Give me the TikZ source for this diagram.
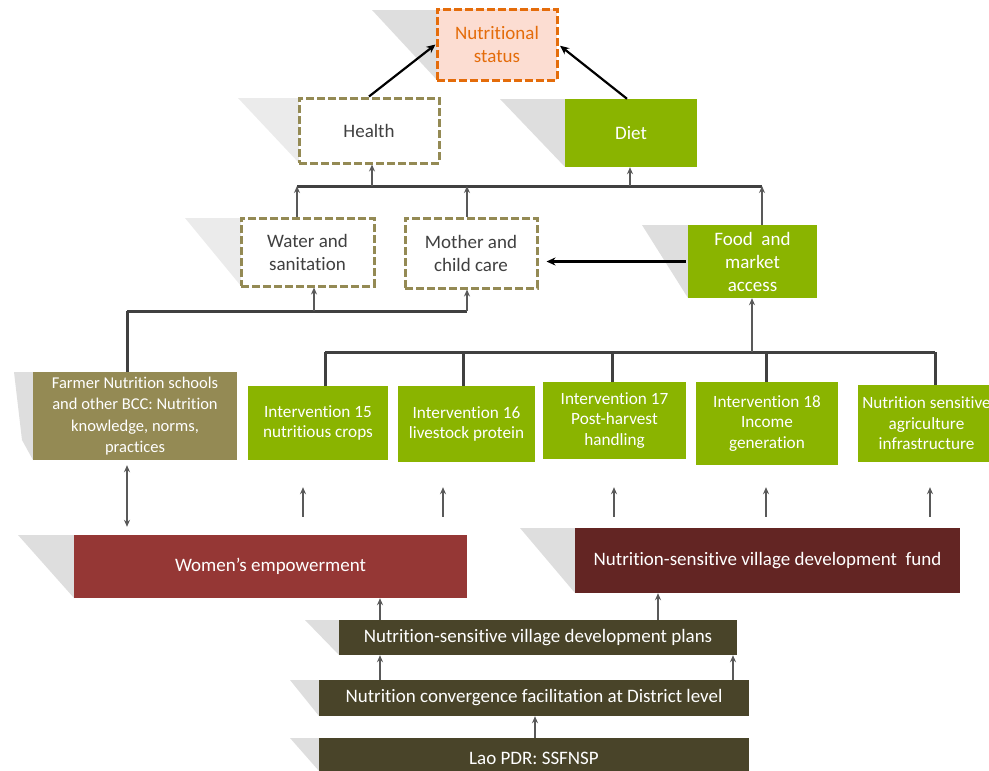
\documentclass[tikz,border=0pt]{standalone}
\usepackage{fontspec}
\setmainfont[Ligatures={NoCommon}]{Carlito}
\usetikzlibrary{arrows.meta,calc}
\definecolor{grn}{RGB}{138,180,0}
\definecolor{oliv}{RGB}{148,138,84}
\definecolor{orng}{RGB}{228,108,10}
\definecolor{peach}{RGB}{252,221,210}
\definecolor{wred}{RGB}{149,55,53}
\definecolor{fred}{RGB}{99,37,35}
\definecolor{dolive}{RGB}{73,68,41}
\definecolor{lgray}{RGB}{89,89,89}
\definecolor{txtgray}{RGB}{64,64,64}
\definecolor{shd}{RGB}{222,222,222}
\tikzset{
  box/.style={inner sep=1pt, align=center, text=white},
  dbox/.style={box, fill=white, draw=oliv, line width=3pt, dash pattern=on 8pt off 3pt, text=txtgray},
  gbox/.style={box, fill=grn},
  fsbig/.style={font=\fontsize{19}{23}\selectfont},
  fsmid/.style={font=\fontsize{17.2}{20.5}\selectfont},
  fssmall/.style={font=\fontsize{16.5}{21.5}\selectfont},
  arr/.style={draw=lgray, line width=1.8pt, -{Stealth[length=7pt,width=6pt]}},
  darr/.style={draw=lgray, line width=1.8pt, {Stealth[length=7pt,width=6pt]}-{Stealth[length=7pt,width=6pt]}},
  bigarr/.style={draw=black, line width=2.2pt, -{Stealth[length=9pt,width=8pt]}},
  bus/.style={draw=txtgray, line width=3pt},
  shad/.style={fill=shd},
  lshad/.style={fill=shd!60}
}
\begin{document}
\begin{tikzpicture}[x=1pt,y=-1pt]
\useasboundingbox (0,0) rectangle (989,771);
\clip (0,0) rectangle (989,771);
% shadows
\fill[shad] (372,10) -- (437,10) -- (437,80) -- cycle;
\fill[shad] (500,99) -- (565,99) -- (565,167) -- cycle;
\fill[shad] (642,225) -- (688,225) -- (688,298) -- cycle;
\fill[shad] (14,372) -- (33,372) -- (33,460) -- (22,440) -- cycle;
\fill[shad] (18,535) -- (74,535) -- (74,598) -- cycle;
\fill[shad] (520,528) -- (575,528) -- (575,593) -- cycle;
\fill[shad] (305,620) -- (339,620) -- (339,655) -- cycle;
\fill[shad] (290,680) -- (319,680) -- (319,716) -- cycle;
\fill[shad] (290,738) -- (319,738) -- (319,771) -- cycle;
\fill[lshad] (238,98) -- (299,98) -- (299,163) -- cycle;
\fill[lshad] (185,218) -- (241,218) -- (241,286) -- cycle;
% nodes
\node[box, fsbig, fill=peach, draw=orng, line width=3pt, dash pattern=on 8pt off 3pt, text=orng, minimum width=120pt, minimum height=71pt] (nut) at (497,44.5) {Nutritional\\status};
\node[dbox, fsbig, minimum width=140pt, minimum height=65pt] (health) at (369,130.5) {Health};
\node[gbox, fsbig, minimum width=132pt, minimum height=68pt] (diet) at (631,133) {Diet};
\node[dbox, fsbig, minimum width=133pt, minimum height=68pt] (water) at (307.5,252) {Water and\\sanitation};
\node[dbox, fsbig, minimum width=132pt, minimum height=70pt] (mother) at (471,253) {Mother and\\child care};
\node[gbox, fsbig, minimum width=129pt, minimum height=73pt] (food) at (752.5,261.5) {Food~ and\\market\\access};
\node[box, fssmall, fill=oliv, minimum width=204pt, minimum height=88pt] (farmer) at (135,416) {Farmer Nutrition schools\\and other BCC: Nutrition\\knowledge, norms,\\practices};
\node[gbox, fsmid, minimum width=140pt, minimum height=74pt] (i15) at (318,423) {Intervention 15\\nutritious crops};
\node[gbox, fsmid, minimum width=137pt, minimum height=76pt] (i16) at (466.5,424) {Intervention 16\\livestock protein};
\node[gbox, fsmid, minimum width=143pt, minimum height=77pt] (i17) at (614.5,420.5) {Intervention 17\\Post-harvest\\handling};
\node[gbox, fsmid, minimum width=142pt, minimum height=83pt] (i18) at (767,423.5) {Intervention 18\\Income\\generation};
\node[gbox, fsmid, minimum width=137pt, minimum height=77pt] (i19) at (926.5,423.5) {Nutrition sensitive\\agriculture\\infrastructure};
\node[box, fsbig, fill=wred, minimum width=393pt, minimum height=63pt] (women) at (270.5,566.5) {Women’s empowerment};
\node[box, fsbig, fill=fred, minimum width=385pt, minimum height=65pt] (fund) at (767.5,560.5) {Nutrition-sensitive village development~ fund};
\node[box, fsbig, fill=dolive, minimum width=398pt, minimum height=35pt] (plans) at (538,637.5) {Nutrition-sensitive village development plans};
\node[box, fsbig, fill=dolive, minimum width=430pt, minimum height=36pt] (district) at (534,698) {Nutrition convergence facilitation at District level};
\node[box, fsbig, fill=dolive, minimum width=430pt, minimum height=40pt] (lao) at (534,758) {Lao PDR: SSFNSP};
% top arrows
\draw[bigarr] (health.north) -- (nut.west);
\draw[bigarr, shorten >=2pt] ([xshift=-4pt]diet.north) -- (nut.east);
% top bus
\coordinate (tb1) at (297,186);
\coordinate (tb2) at (762,186);
\draw[bus] (tb1) -- (tb2);
\draw[arr] (372,186) -- (health.south -| 372,0);
\draw[arr] (630,186) -- (diet.south -| 630,0);
\draw[arr] (water.north -| tb1) -- (tb1);
\draw[arr] (mother.north -| 467,0) -- (467,186);
\draw[arr] ([xshift=9.5pt]food.north) -- ([xshift=9.5pt]food.north |- tb2);
% food to mother
\draw[bigarr, shorten <=2pt, shorten >=8pt] (food.west) -- (food.west -| mother.east);
% middle bus
\coordinate (mb1) at (127,311);
\coordinate (mb2) at (467,311);
\draw[bus] (mb1) -- (mb2);
\draw[bus] (mb1) -- (farmer.north -| mb1);
\draw[arr] (314,311) -- (water.south -| 314,0);
\draw[arr] (mb2) -- (mother.south -| mb2);
% lower bus
\coordinate (lb1) at (325,352);
\coordinate (lb2) at (935,352);
\draw[bus] (lb1) -- (lb2);
\draw[bus] (lb1) -- (i15.north -| lb1);
\draw[bus] (463,352) -- (i16.north -| 463,0);
\draw[bus] (612,352) -- (i17.north -| 612,0);
\draw[bus] (766,352) -- (i18.north -| 766,0);
\draw[bus] (lb2) -- (i19.north -| lb2);
\draw[arr] (752,352) -- (food.south -| 752,0);
% double arrow
\draw[darr, shorten <=5pt, shorten >=8pt] (farmer.south -| 127,0) -- (women.north -| 127,0);
% floating up arrows
\draw[arr, shorten <=18pt, shorten >=27pt] (women.north -| 303,0) -- (i15.south -| 303,0);
\draw[arr, shorten <=18pt, shorten >=25pt] (women.north -| 443,0) -- (i16.south -| 443,0);
\draw[arr, shorten <=11pt, shorten >=28pt] (fund.north -| 614,0) -- (i17.south -| 614,0);
\draw[arr, shorten <=11pt, shorten >=22pt] (fund.north -| 766,0) -- (i18.south -| 766,0);
\draw[arr, shorten <=11pt, shorten >=25pt] (fund.north -| 930,0) -- (i19.south -| 930,0);
% bottom arrows
\draw[arr] (plans.north -| 380,0) -- (women.south -| 380,0);
\draw[arr] (plans.north -| 658,0) -- (fund.south -| 658,0);
\draw[arr] (district.north -| 380,0) -- (plans.south -| 380,0);
\draw[arr] (district.north -| 733,0) -- (plans.south -| 733,0);
\draw[arr] (lao.north -| 535,0) -- (district.south -| 535,0);
\end{tikzpicture}
\end{document}
